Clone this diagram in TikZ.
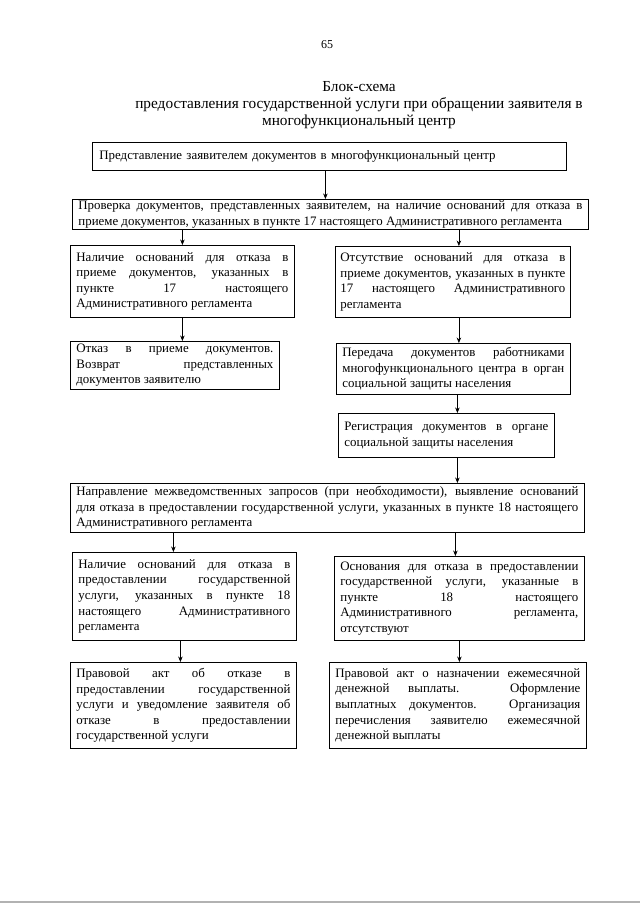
\documentclass[tikz,border=0pt]{standalone}
\usepackage{fontspec}
\setmainfont{Liberation Serif}
\usetikzlibrary{arrows.meta,positioning}
\tikzset{
  ar/.style={-{Stealth[length=5.5pt,width=4.5pt]},semithick},
  blk/.style={draw,line width=0.8pt,anchor=north west,align=justify,inner xsep=6pt,inner ysep=1pt,
    font=\fontsize{12.9}{15.6}\selectfont},
  ttl/.style={font=\fontsize{15.3}{17}\selectfont,align=center}
}

\begin{document}
\begin{tikzpicture}[x=1pt,y=-1pt]
\useasboundingbox (0,0) rectangle (640,905);
\node[font=\fontsize{12}{14}\selectfont] (pg) at (327,45) {65};
\node[ttl] (title) at (359,105) {Блок-схема\\ предоставления государственной услуги при обращении заявителя в\\ многофункциональный центр};
% upper part
\node[blk,align=left,inner xsep=7pt,text width=460pt,minimum height=28pt] (submit) at (92,142)
  {Представление заявителем документов в многофункциональный центр};
\node[blk,text width=504pt,minimum height=30pt] (check) at (72,199)
  {Проверка документов, представленных заявителем, на наличие оснований для отказа в\linebreak приеме документов, указанных в пункте 17 настоящего Административного регламента};
\node[blk,text width=212pt,minimum height=72pt] (refA) at (70,245)
  {Наличие оснований для отказа в\linebreak приеме документов, указанных в\linebreak пункте 17 настоящего\linebreak Административного регламента};
\node[blk,inner xsep=5pt,text width=225pt,minimum height=71pt] (nrefA) at (335,246)
  {Отсутствие оснований для отказа в\linebreak приеме документов, указанных в пункте\linebreak 17 настоящего Административного\linebreak регламента};
\node[blk,text width=197pt,minimum height=48pt] (reject) at (70,341)
  {Отказ в приеме документов.\linebreak Возврат представленных\linebreak документов заявителю};
\node[blk,text width=222pt,minimum height=51pt] (transfer) at (336,343)
  {Передача документов работниками\linebreak многофункционального центра в орган\linebreak социальной защиты населения};
\node[blk,text width=204pt,minimum height=44pt] (regist) at (338,413)
  {Регистрация документов в органе\linebreak социальной защиты населения};
% lower part
\node[blk,text width=502pt,minimum height=49pt] (query) at (70,483)
  {Направление межведомственных запросов (при необходимости), выявление оснований\linebreak для отказа в предоставлении государственной услуги, указанных в пункте 18 настоящего\linebreak Административного регламента};
\node[blk,text width=212pt,minimum height=88pt] (refB) at (72,552)
  {Наличие оснований для отказа в\linebreak предоставлении государственной\linebreak услуги, указанных в пункте 18\linebreak настоящего Административного\linebreak регламента};
\node[blk,text width=238pt,minimum height=84pt] (nrefB) at (334,556)
  {Основания для отказа в предоставлении\linebreak государственной услуги, указанные в\linebreak пункте 18 настоящего\linebreak Административного регламента,\linebreak отсутствуют};
\node[blk,text width=214pt,minimum height=86pt] (actno) at (70,662)
  {Правовой акт об отказе в\linebreak предоставлении государственной\linebreak услуги и уведомление заявителя об\linebreak отказе в предоставлении\linebreak государственной услуги};
\node[blk,text width=245pt,minimum height=86pt] (actyes) at (329,662)
  {Правовой акт о назначении ежемесячной\linebreak денежной выплаты. Оформление\linebreak выплатных документов. Организация\linebreak перечисления заявителю ежемесячной\linebreak денежной выплаты};
% arrows
\draw[ar] ([xshift=-4pt]submit.south) -- ([xshift=-4pt]submit.south |- check.north);
\draw[ar] (refA.north |- check.south) -- (refA.north);
\draw[ar] ([xshift=6pt]nrefA.north |- check.south) -- ([xshift=6pt]nrefA.north);
\draw[ar] (refA.south) -- (refA.south |- reject.north);
\draw[ar] ([xshift=6pt]nrefA.south) -- ([xshift=6pt]nrefA.south |- transfer.north);
\draw[ar] ([xshift=11pt]regist.north |- transfer.south) -- ([xshift=11pt]regist.north);
\draw[ar] ([xshift=11pt]regist.south) -- ([xshift=11pt]regist.south |- query.north);
\draw[ar] ([xshift=-11pt]refB.north |- query.south) -- ([xshift=-11pt]refB.north);
\draw[ar] ([xshift=-4pt]nrefB.north |- query.south) -- ([xshift=-4pt]nrefB.north);
\draw[ar] ([xshift=-4pt]refB.south) -- ([xshift=-4pt]refB.south |- actno.north);
\draw[ar] (nrefB.south) -- (nrefB.south |- actyes.north);
% scan edge
\draw[gray!60,line width=1.2pt] (0,902) -- (640,902);
\end{tikzpicture}
\end{document}
